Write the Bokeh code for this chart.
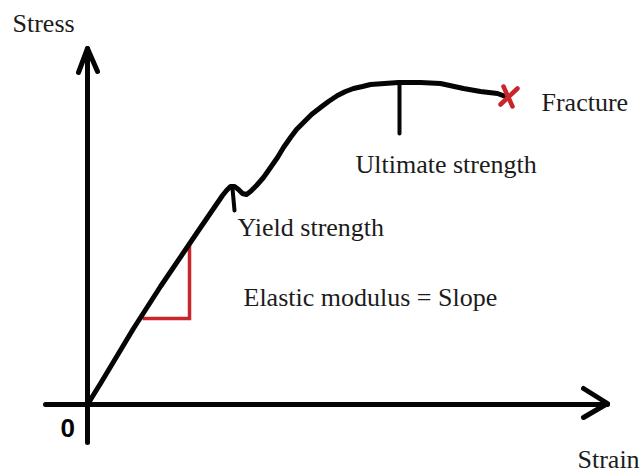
from bokeh.plotting import figure
from bokeh.models import Range1d
from bokeh.core.properties import value
from bokeh.embed import file_html
from bokeh.resources import INLINE

# Stress-strain curve (schematic), strain / stress in drawing units
strain = [0, 13, 46, 73, 111, 135, 139, 143, 147, 151, 155, 159, 163, 169, 176,
          183, 190, 196, 203, 209, 216, 224, 233, 241, 250, 258, 266, 275, 283,
          297, 311, 333, 353, 376, 393, 410, 418]
stress = [0, 21, 76, 118, 174, 209, 214, 218, 218, 215, 211, 210, 213, 219, 227,
          237, 247, 257, 267, 275, 282, 290, 297, 303, 309, 313, 316, 318, 320,
          321, 322, 322, 321, 316, 313, 311, 308]

# markers
yield_tick_x = [145, 147]
yield_tick_y = [216, 194]
ult_tick_x = [312, 312]
ult_tick_y = [321, 271]
slope_tri_x = [55, 102, 102]
slope_tri_y = [86, 86, 161]
fracture_a_x = [416, 425]
fracture_a_y = [318, 298]
fracture_b_x = [430, 413]
fracture_b_y = [316, 300]

# axes
x_axis_x = [-42, 520]
x_axis_y = [0, 0]
y_axis_x = [0, 0]
y_axis_y = [-38, 356]
x_head_x = [496, 520, 496]
x_head_y = [16, 1, -13]
y_head_x = [-9, 0, 10]
y_head_y = [332, 356, 333]

# labels
label_text = ["Stress", "Strain", "Yield strength", "Ultimate strength",
              "Fracture", "Elastic modulus = Slope"]
label_x = [-75, 490, 150, 268, 454, 156]
label_y = [381, -55, 177, 240, 302, 107]
zero_text = ["0"]
zero_x = [-27]
zero_y = [-23]

p = figure(width=641, height=474, x_range=Range1d(-87, 554), y_range=Range1d(-70, 404),
           output_backend="svg", toolbar_location=None,
           x_axis_type=None, y_axis_type=None, min_border=0)
p.grid.visible = False
p.outline_line_color = None
p.background_fill_color = "white"
p.border_fill_color = "white"

black = "#050505"
red = "#c8262a"

p.line(x_axis_x, x_axis_y, line_color=black, line_width=5, line_cap="round")
p.line(y_axis_x, y_axis_y, line_color=black, line_width=5, line_cap="round")
p.line(x_head_x, x_head_y, line_color=black, line_width=5, line_cap="round", line_join="round")
p.line(y_head_x, y_head_y, line_color=black, line_width=5, line_cap="round", line_join="round")

p.line(slope_tri_x, slope_tri_y, line_color=red, line_width=3.5, line_join="miter")

p.line(strain, stress, line_color=black, line_width=5, line_cap="round", line_join="round")
p.line(yield_tick_x, yield_tick_y, line_color=black, line_width=4, line_cap="round")
p.line(ult_tick_x, ult_tick_y, line_color=black, line_width=4, line_cap="round")

p.line(fracture_a_x, fracture_a_y, line_color=red, line_width=4.5, line_cap="round")
p.line(fracture_b_x, fracture_b_y, line_color=red, line_width=4.5, line_cap="round")

p.text(x=label_x, y=label_y, text=label_text, text_font=value("Liberation Serif"),
       text_font_size="26px", text_color="#1c1c1c", text_baseline="alphabetic",
       text_align="left")
p.text(x=zero_x, y=zero_y, text=zero_text, text_font=value("Liberation Sans"),
       text_font_style="bold", text_font_size="26px", text_color=black,
       text_baseline="alphabetic", text_align="left")

open("out.html", "w").write(file_html(p, INLINE))
